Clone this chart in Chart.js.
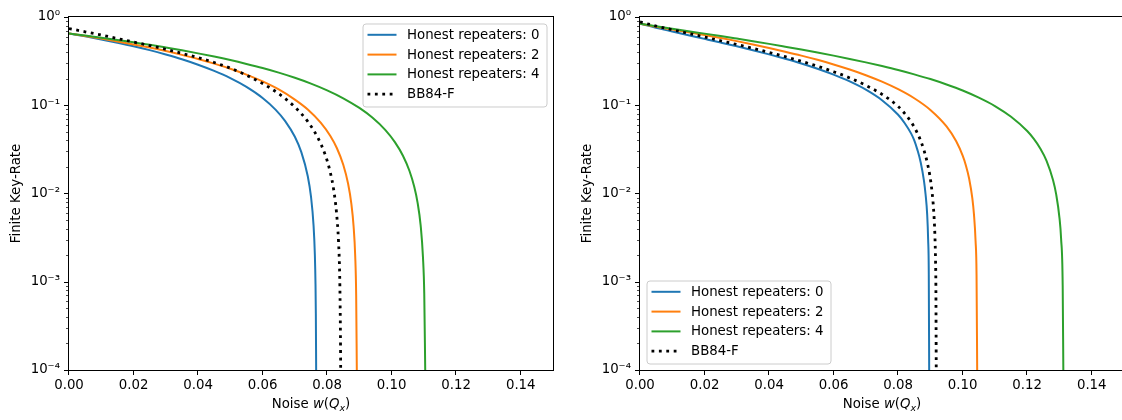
<!DOCTYPE html>
<html><head><meta charset="utf-8">
<script src="https://cdn.jsdelivr.net/npm/chart.js@4.4.0/dist/chart.umd.min.js"></script>
<style>
html,body{margin:0;padding:0;background:#fff;overflow:hidden;width:1122px;height:420px;position:relative;}
.wrap{position:absolute;top:0;width:561px;height:420px;}
canvas{display:block;}
</style></head><body>
<div class="wrap" style="left:0"><canvas id="c1" width="561" height="420"></canvas></div>
<div class="wrap" style="left:571px"><canvas id="c2" width="561" height="420"></canvas></div>
<script>
// ---------- data ----------
const seriesLabels = ['Honest repeaters: 0', 'Honest repeaters: 2', 'Honest repeaters: 4', 'BB84-F'];
const xTickValues = [0, 0.02, 0.04, 0.06, 0.08, 0.10, 0.12, 0.14];
const yTickValues = [1e-4, 1e-3, 1e-2, 1e-1, 1];
const yTickLabels = ['10\u207B\u2074', '10\u207B\u00B3', '10\u207B\u00B2', '10\u207B\u00B9', '10\u2070'];

// Left panel
const left0W = [0, 0.005, 0.01, 0.015, 0.02, 0.025, 0.03, 0.035, 0.04, 0.045, 0.05, 0.055, 0.06, 0.064, 0.067, 0.07, 0.072, 0.074, 0.075, 0.0758, 0.0762, 0.0764, 0.0765, 0.0766];
const left0R = [0.65, 0.603, 0.557, 0.511, 0.466, 0.421, 0.376, 0.332, 0.288, 0.245, 0.203, 0.1615, 0.121, 0.0893, 0.0662, 0.0439, 0.0294, 0.0157, 0.0092, 0.0043, 0.0020, 0.00093, 0.00044, 0.0001];
const left2W = [0, 0.005, 0.01, 0.015, 0.02, 0.025, 0.03, 0.035, 0.04, 0.045, 0.05, 0.055, 0.06, 0.065, 0.07, 0.074, 0.078, 0.081, 0.083, 0.085, 0.0865, 0.0875, 0.0882, 0.0887, 0.089, 0.0892];
const left2R = [0.65, 0.609, 0.569, 0.529, 0.489, 0.45, 0.411, 0.372, 0.334, 0.296, 0.259, 0.222, 0.186, 0.151, 0.116, 0.0896, 0.0636, 0.0449, 0.0328, 0.0212, 0.0129, 0.0077, 0.00425, 0.00196, 0.0007, 0.0001];
const left4W = [0, 0.005, 0.01, 0.015, 0.02, 0.025, 0.03, 0.035, 0.04, 0.045, 0.05, 0.055, 0.06, 0.065, 0.07, 0.075, 0.08, 0.085, 0.09, 0.094, 0.098, 0.101, 0.1035, 0.1055, 0.107, 0.108, 0.109, 0.1097, 0.1101, 0.1104];
const left4R = [0.65, 0.616, 0.583, 0.55, 0.516, 0.484, 0.451, 0.419, 0.387, 0.356, 0.325, 0.294, 0.264, 0.234, 0.2046, 0.1758, 0.1475, 0.12, 0.0932, 0.0725, 0.0526, 0.0382, 0.0268, 0.0181, 0.0119, 0.008, 0.0043, 0.0019, 0.00073, 0.0001];
const leftBBW = [0, 0.005, 0.01, 0.015, 0.02, 0.025, 0.03, 0.035, 0.04, 0.045, 0.05, 0.055, 0.06, 0.065, 0.07, 0.074, 0.077, 0.0795, 0.081, 0.082, 0.0829, 0.0835, 0.0839, 0.0841, 0.0842];
const leftBBR = [0.74, 0.68, 0.625, 0.57, 0.52, 0.475, 0.43, 0.387, 0.346, 0.305, 0.263, 0.219, 0.1764, 0.1352, 0.0955, 0.0653, 0.0437, 0.0268, 0.0172, 0.0112, 0.0061, 0.003, 0.00113, 0.00032, 0.0001];

// Right panel
const right0W = [0, 0.005, 0.01, 0.015, 0.02, 0.025, 0.03, 0.035, 0.04, 0.045, 0.05, 0.055, 0.06, 0.065, 0.07, 0.075, 0.08, 0.082, 0.084, 0.085, 0.086, 0.087, 0.088, 0.0885, 0.089, 0.0893, 0.0895, 0.08962];
const right0R = [0.84, 0.755, 0.685, 0.622, 0.565, 0.513, 0.465, 0.42, 0.377, 0.336, 0.297, 0.259, 0.222, 0.186, 0.15, 0.114, 0.078, 0.063, 0.048, 0.040, 0.031, 0.0225, 0.014, 0.0098, 0.0058, 0.003, 0.0012, 0.0001];
const right2W = [0, 0.005, 0.01, 0.015, 0.02, 0.025, 0.03, 0.035, 0.04, 0.045, 0.05, 0.055, 0.06, 0.065, 0.07, 0.075, 0.08, 0.085, 0.09, 0.095, 0.098, 0.1, 0.101, 0.102, 0.103, 0.1035, 0.104, 0.1043, 0.1045];
const right2R = [0.84, 0.776, 0.722, 0.673, 0.625, 0.578, 0.533, 0.488, 0.445, 0.404, 0.365, 0.327, 0.29, 0.254, 0.219, 0.185, 0.152, 0.12, 0.0885, 0.0575, 0.039, 0.0268, 0.0208, 0.0148, 0.0088, 0.0058, 0.0029, 0.0012, 0.0001];
const right4W = [0, 0.005, 0.01, 0.015, 0.02, 0.025, 0.03, 0.035, 0.04, 0.045, 0.05, 0.055, 0.06, 0.065, 0.07, 0.075, 0.08, 0.085, 0.09, 0.095, 0.1, 0.105, 0.11, 0.115, 0.12, 0.122, 0.124, 0.126, 0.128, 0.129, 0.13, 0.1305, 0.131, 0.1312];
const right4R = [0.84, 0.784, 0.734, 0.689, 0.648, 0.608, 0.569, 0.532, 0.496, 0.461, 0.428, 0.396, 0.365, 0.335, 0.306, 0.278, 0.251, 0.224, 0.198, 0.172, 0.147, 0.122, 0.098, 0.074, 0.051, 0.0418, 0.0326, 0.0234, 0.0142, 0.0097, 0.0053, 0.0031, 0.0009, 0.0001];
const rightBBW = [0, 0.005, 0.01, 0.015, 0.02, 0.025, 0.03, 0.035, 0.04, 0.045, 0.05, 0.055, 0.06, 0.065, 0.07, 0.075, 0.08, 0.082, 0.084, 0.085, 0.086, 0.087, 0.088, 0.089, 0.0898, 0.0905, 0.091, 0.0914, 0.0916, 0.0917, 0.09181];
const rightBBR = [0.88, 0.79, 0.718, 0.652, 0.593, 0.538, 0.488, 0.441, 0.397, 0.355, 0.315, 0.277, 0.240, 0.204, 0.168, 0.133, 0.097, 0.081, 0.065, 0.0565, 0.048, 0.0395, 0.031, 0.0226, 0.0162, 0.0105, 0.0065, 0.0033, 0.0017, 0.0009, 0.0001];

// ---------- styling ----------
const FONT = "'DejaVu Sans', 'Liberation Sans', sans-serif";
const FS = 13.33;
const colors = ['#1f77b4', '#ff7f0e', '#2ca02c', '#000000'];
const widths = [2, 2, 2, 2.8];
const dashes = [[], [], [], [2.8, 4.6]];

function pts(w, r) { return w.map((x, i) => ({ x: x, y: r[i] })); }

function makeDatasets(series) {
  return series.map((s, i) => ({
    label: seriesLabels[i],
    data: pts(s[0], s[1]),
    borderColor: colors[i],
    backgroundColor: colors[i],
    borderWidth: widths[i],
    borderDash: dashes[i],
    borderCapStyle: 'butt',
    pointRadius: 0,
    fill: false,
    cubicInterpolationMode: 'monotone',
    order: 3 - i
  }));
}

const decor = {
  id: 'decor',
  afterDraw(chart, args, opts) {
    const ctx = chart.ctx, a = chart.chartArea;
    const xs = chart.scales.x, ys = chart.scales.y;
    ctx.save();
    ctx.strokeStyle = '#000';
    ctx.fillStyle = '#000';
    // spines
    ctx.lineWidth = 1;
    ctx.strokeRect(Math.round(a.left) - 0.5, Math.round(a.top) - 0.5, Math.round(a.right - a.left) + 1, Math.round(a.bottom - a.top) + 1);
    // y ticks (major + minor)
    for (let k = -4; k <= 0; k++) {
      for (let m = 1; m <= 9; m++) {
        const v = m * Math.pow(10, k);
        if (v > 1.0000001) break;
        const py = Math.round(ys.getPixelForValue(v)) + 0.5;
        const len = m === 1 ? 4.5 : 2.5;
        ctx.lineWidth = m === 1 ? 1 : 0.7;
        ctx.beginPath(); ctx.moveTo(a.left - 0.5, py); ctx.lineTo(a.left - 0.5 - len, py); ctx.stroke();
      }
    }
    // x ticks
    ctx.lineWidth = 1;
    xTickValues.forEach(v => {
      const px = Math.round(xs.getPixelForValue(v)) - 0.5;
      ctx.beginPath(); ctx.moveTo(px, a.bottom + 0.5); ctx.lineTo(px, a.bottom + 5); ctx.stroke();
    });
    // x title: Noise w(Q_x)
    const segs = [
      ['Noise ', 'normal', FS, 0],
      ['w', 'italic', FS, 0],
      ['(', 'normal', FS, 0],
      ['Q', 'italic', FS, 0],
      ['x', 'italic', 9.5, 3],
      [')', 'normal', FS, 0]
    ];
    let total = 0;
    segs.forEach(s => { ctx.font = s[1] + ' ' + s[2] + 'px ' + FONT; s.push(ctx.measureText(s[0]).width); total += s[4]; });
    let x = (a.left + a.right) / 2 - total / 2;
    ctx.textBaseline = 'alphabetic'; ctx.textAlign = 'left';
    segs.forEach(s => { ctx.font = s[1] + ' ' + s[2] + 'px ' + FONT; ctx.fillText(s[0], x, 408 + s[3]); x += s[4]; });
    // y title
    ctx.save();
    ctx.translate(17, (a.top + a.bottom) / 2);
    ctx.rotate(-Math.PI / 2);
    ctx.font = FS + 'px ' + FONT;
    ctx.textAlign = 'center'; ctx.textBaseline = 'middle';
    ctx.fillText('Finite Key-Rate', 0, 0);
    ctx.restore();
    // legend
    const bw = 184, bh = 83;
    let bx, by;
    if (opts.pos === 'ur') { bx = a.right - 6.5 - bw; by = a.top + 6.5; }
    else { bx = a.left + 6.5; by = a.bottom - 6.5 - bh; }
    ctx.beginPath();
    ctx.roundRect(bx + 0.5, by + 0.5, bw, bh, 3);
    ctx.fillStyle = 'rgba(255,255,255,0.8)';
    ctx.fill();
    ctx.strokeStyle = '#cccccc'; ctx.lineWidth = 1;
    ctx.stroke();
    ctx.font = FS + 'px ' + FONT;
    ctx.textAlign = 'left'; ctx.textBaseline = 'middle';
    seriesLabels.forEach((lab, i) => {
      const ry = by + 11.3 + i * 19.8;
      ctx.strokeStyle = colors[i];
      ctx.lineWidth = widths[i];
      ctx.setLineDash(dashes[i]);
      ctx.lineCap = 'butt';
      ctx.beginPath(); ctx.moveTo(bx + 5, ry); ctx.lineTo(bx + 34, ry); ctx.stroke();
      ctx.setLineDash([]);
      ctx.fillStyle = '#000';
      ctx.fillText(lab, bx + 44.5, ry + 0.5);
    });
    ctx.restore();
  }
};

function makeChart(id, series, legendPos) {
  return new Chart(document.getElementById(id), {
    type: 'line',
    data: { datasets: makeDatasets(series) },
    options: {
      responsive: false,
      animation: false,
      devicePixelRatio: 1,
      layout: { padding: { left: 0, right: 8, top: 10, bottom: 0 } },
      scales: {
        x: {
          type: 'linear', min: 0, max: 0.15,
          afterFit(s) { s.height = 50; },
          afterBuildTicks(s) { s.ticks = xTickValues.map(v => ({ value: v })); },
          ticks: { padding: 8, color: '#000', font: { family: FONT, size: FS }, autoSkip: false, maxRotation: 0,
                   callback: (v) => Number(v).toFixed(2) },
          grid: { display: false, drawTicks: false },
          border: { display: false }
        },
        y: {
          type: 'logarithmic', min: 1e-4, max: 1,
          afterFit(s) { s.width = 69; },
          afterBuildTicks(s) { s.ticks = yTickValues.map(v => ({ value: v })); },
          ticks: { padding: 9, color: '#000', font: { family: FONT, size: FS }, autoSkip: false,
                   callback: (v, i) => yTickLabels[i] },
          grid: { display: false, drawTicks: false },
          border: { display: false }
        }
      },
      plugins: { legend: { display: false }, tooltip: { enabled: false }, title: { display: false }, decor: { pos: legendPos } }
    },
    plugins: [decor]
  });
}

makeChart('c1', [[left0W, left0R], [left2W, left2R], [left4W, left4R], [leftBBW, leftBBR]], 'ur');
makeChart('c2', [[right0W, right0R], [right2W, right2R], [right4W, right4R], [rightBBW, rightBBR]], 'll');
</script>
</body></html>
